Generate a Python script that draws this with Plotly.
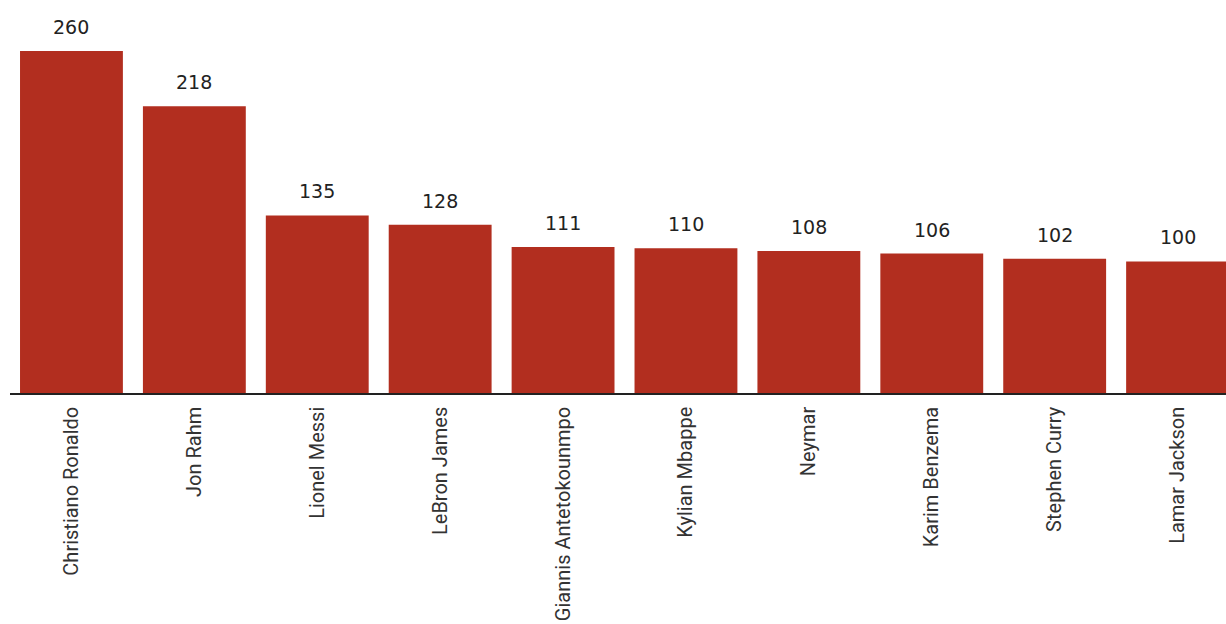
import plotly.graph_objects as go

# Athletes and their earnings
athletes = [
    "Christiano Ronaldo", "Jon Rahm", "Lionel Messi", "LeBron James",
    "Giannis Antetokounmpo", "Kylian Mbappe", "Neymar", "Karim Benzema",
    "Stephen Curry", "Lamar Jackson",
]
earnings = [260, 218, 135, 128, 111, 110, 108, 106, 102, 100]

BAR_COLOR = "#B22E1F"

fig = go.Figure(
    go.Bar(
        x=athletes,
        y=earnings,
        marker=dict(color=BAR_COLOR, line=dict(width=0)),
        hoverinfo="x+y",
    )
)

# value labels above each bar
for name, val in zip(athletes, earnings):
    fig.add_annotation(
        x=name, y=val, text=str(val), showarrow=False,
        yanchor="bottom", yshift=11,
        font=dict(family="DejaVu Sans", size=19, color="#222222"),
    )

fig.update_layout(
    width=1226,
    height=624,
    margin=dict(l=10, r=0, t=0, b=231),
    paper_bgcolor="white",
    plot_bgcolor="white",
    bargap=0.163,
    showlegend=False,
    xaxis=dict(
        range=[-0.5, 9.394],
        tickangle=-90,
        tickfont=dict(family="Roboto", size=20, color="#333333"),
        showline=True,
        linecolor="#222222",
        linewidth=1.5,
        showgrid=False,
        ticks="",
        ticklabelstandoff=4,
        fixedrange=True,
    ),
    yaxis=dict(
        range=[0, 298.8],
        visible=False,
        showgrid=False,
        zeroline=False,
        fixedrange=True,
    ),
)

fig.write_html("out.html")
